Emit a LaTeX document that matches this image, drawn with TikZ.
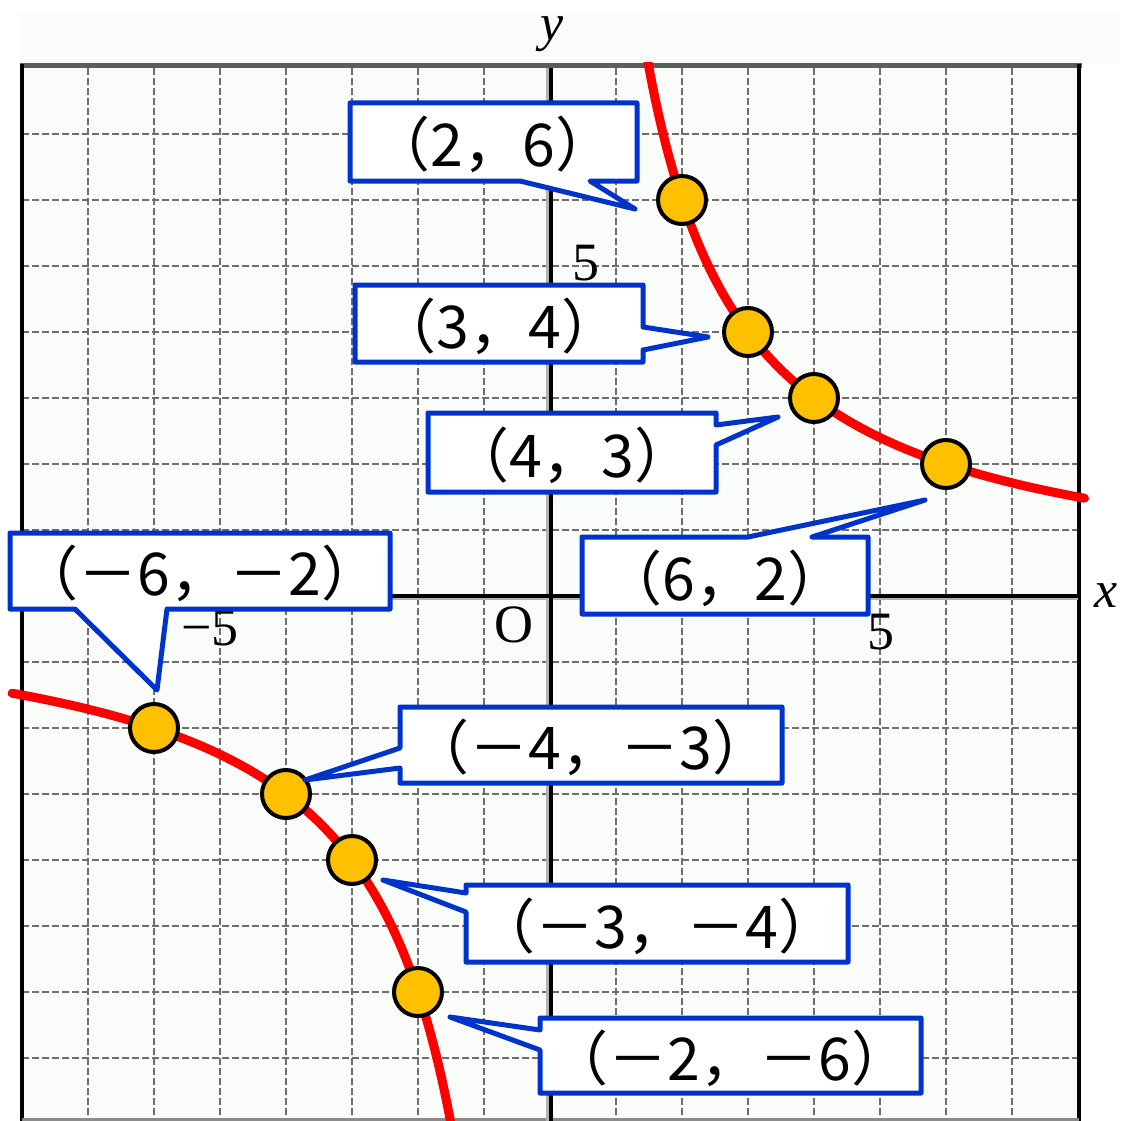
\documentclass[tikz,border=0pt]{standalone}
\usepackage{fontspec}
\newfontfamily\jp{Noto Sans CJK JP}
\newfontfamily\lserif{Liberation Serif}
\definecolor{cblue}{HTML}{0033CC}
\definecolor{dotfill}{HTML}{FFC000}
\definecolor{gridgray}{HTML}{6E6E6E}
\definecolor{paper}{HTML}{FAFCFA}
\definecolor{framegray}{HTML}{5A5E5A}
\begin{document}
\begin{tikzpicture}[x=1pt,y=-1pt,
  gridline/.style={draw=gridgray, line width=2.4pt, dash pattern=on 7pt off 3pt},
  axisline/.style={draw=black, line width=3.5pt},
  curve/.style={draw=red, line width=9pt, line cap=round},
  pt/.style={circle, fill=dotfill, draw=black, line width=4pt, minimum size=48pt, inner sep=0pt},
  callout/.style={draw=cblue, fill=white, line width=5pt, line join=round},
  lbl/.style={font=\jp\fontsize{59}{59}\selectfont, inner sep=0pt},
  axlbl/.style={font=\lserif\fontsize{54}{54}\selectfont, inner sep=0pt}]
\useasboundingbox (0,0) rectangle (1120,1121);
% background
\fill[white] (0,0) rectangle (1120,1121);
\fill[paper] (20,12) rectangle (1120,64);
\fill[paper] (22,64) rectangle (1080,1121);
% grid
\foreach \k in {-7,...,-1,1,2,...,7} {
  \draw[gridline] ({550+66*\k},68) -- ({550+66*\k},1121);
  \draw[gridline] (22,{596+66*\k}) -- (1078,{596+66*\k});
}
% frame
\draw[framegray, line width=5pt] (20,66) -- (1082,66);
\draw[black, line width=4pt] (22,64) -- (22,1121);
\draw[black, line width=4pt] (1079,64) -- (1079,1121);
\draw[gridgray!80, line width=3pt] (22,1119.5) -- (1079,1119.5);
% axes
\draw[gray!60, line width=6pt] (22,597) -- (1078,597);
\draw[gray!60, line width=6pt] (549,68) -- (549,1121);
\draw[axisline] (22,596) -- (1078,596);
\draw[axisline] (551,68) -- (551,1121);
% axis labels
\node[axlbl, font=\lserif\itshape\fontsize{52}{52}\selectfont] (ylab) at (552,34) {y};
\node[axlbl, font=\lserif\itshape\fontsize{52}{52}\selectfont] (xlab) at (1106,596) {x};
\node[axlbl] (olab) at (514,625) {O};
\node[axlbl] (y5) at (586,263) {5};
\node[axlbl] (x5) at (881,632) {5};
\node[axlbl] (xm5) at (210,628) {−5};
% curves
\begin{scope}
\clip (0,63) rectangle (1120,1121);
\draw[curve] plot[domain=1.45:8.1, samples=150, smooth] ({550+66*\x},{596-792/\x});
\draw[curve] plot[domain=-8.15:-1.42, samples=150, smooth] ({550+66*\x},{596-792/\x});
\end{scope}
% points
\node[pt] (p1) at (682,200) {};
\node[pt] (p2) at (748,332) {};
\node[pt] (p3) at (814,398) {};
\node[pt] (p4) at (946,464) {};
\node[pt] (p5) at (154,728) {};
\node[pt] (p6) at (286,794) {};
\node[pt] (p7) at (352,860) {};
\node[pt] (p8) at (418,992) {};
% callouts
\draw[callout] (350,103) -- (637,103) -- (637,181) -- (590,181) -- (635,209) -- (520,181) -- (350,181) -- cycle;
\node[lbl] (t1) at (493,144) {（2，6）};
\draw[callout] (355,285) -- (643,285) -- (643,327) -- (708,337) -- (643,350) -- (643,362) -- (355,362) -- cycle;
\node[lbl] (t2) at (499,326) {（3，4）};
\draw[callout] (428,413) -- (716,413) -- (716,425) -- (778,417) -- (716,445) -- (716,492) -- (428,492) -- cycle;
\node[lbl] (t3) at (572,455) {（4，3）};
\draw[callout] (582,537) -- (748,537) -- (925,500) -- (812,537) -- (868,537) -- (868,614) -- (582,614) -- cycle;
\node[lbl] (t4) at (725,578) {（6，2）};
\draw[callout] (10,533) -- (390,533) -- (390,609) -- (167,609) -- (157,690) -- (75,609) -- (10,609) -- cycle;
\node[lbl] (t5) at (200,573) {（－6，－2）};
\draw[callout] (400,707) -- (782,707) -- (782,783) -- (400,783) -- (400,768) -- (305,780) -- (400,748) -- cycle;
\node[lbl] (t6) at (591,747) {（－4，－3）};
\draw[callout] (466,885) -- (848,885) -- (848,962) -- (466,962) -- (466,912) -- (383,880) -- (466,893) -- cycle;
\node[lbl] (t7) at (657,926) {（－3，－4）};
\draw[callout] (540,1018) -- (921,1018) -- (921,1093) -- (540,1093) -- (540,1050) -- (450,1017) -- (540,1030) -- cycle;
\node[lbl] (t8) at (730,1058) {（－2，－6）};
\end{tikzpicture}
\end{document}
